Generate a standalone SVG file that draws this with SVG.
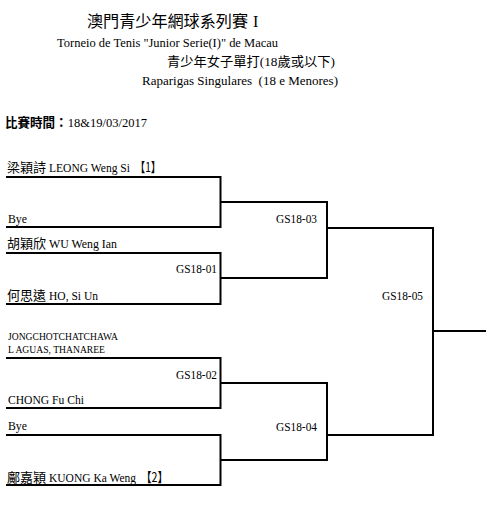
<svg xmlns="http://www.w3.org/2000/svg" width="495" height="529" viewBox="0 0 495 529">
<style>
.t{font-family:"Liberation Serif","Times New Roman","DejaVu Serif",serif;fill:#000;}
.c{font-family:"Noto Sans CJK TC","Noto Sans CJK SC",sans-serif;fill:#000;}
.h{font-size:16px;}
.s{font-size:13px;}
.n{font-size:12.5px;}
.k{font-size:13px;}
.m{font-size:12px;}
.x{font-size:9.5px;}
.b{font-weight:bold;}
.ln{fill:none;stroke:#000;stroke-width:2;}
</style>
<rect width="495" height="529" fill="#fff"/>
<g id="header">
<text class="c h" x="87" y="27" textLength="161" lengthAdjust="spacingAndGlyphs">澳門青少年網球系列賽</text>
<text class="t h" x="253" y="27">I</text>
<text class="t s" x="57" y="47" textLength="221" lengthAdjust="spacingAndGlyphs">Torneio de Tenis "Junior Serie(I)" de Macau</text>
<text class="t s" x="167" y="66" textLength="168" lengthAdjust="spacingAndGlyphs"><tspan class="c">青少年女子單打</tspan>(18<tspan class="c">歲或以下</tspan>)</text>
<text class="t s" x="142" y="85" textLength="196" lengthAdjust="spacingAndGlyphs" xml:space="preserve">Raparigas Singulares  (18 e Menores)</text>
<text class="t s" x="5" y="127" textLength="142" lengthAdjust="spacingAndGlyphs"><tspan class="c b">比賽時間：</tspan>18&amp;19/03/2017</text>
</g>
<g id="connectors">
<path class="ln" d="M6 177H220.5V227H6"/>
<path class="ln" d="M6 253H220.5V304H6"/>
<path class="ln" d="M6 358H220.5V408H6"/>
<path class="ln" d="M6 435H220.5V485H6"/>
<path class="ln" d="M220.5 202H327V278H220.5"/>
<path class="ln" d="M220.5 383H327V460H220.5"/>
<path class="ln" d="M327 228H433V435H327"/>
<path class="ln" d="M433 331H486"/>
</g>
<g id="p1">
<text class="c k" x="7" y="172" textLength="39" lengthAdjust="spacingAndGlyphs">梁穎詩</text>
<text class="t n" x="49" y="172" textLength="81" lengthAdjust="spacingAndGlyphs">LEONG Weng Si</text>
<text class="c k" x="135" y="172" textLength="26" lengthAdjust="spacingAndGlyphs">【1】</text>
</g>
<g id="p2"><text class="t n" x="8" y="223" textLength="19" lengthAdjust="spacingAndGlyphs">Bye</text></g>
<g id="p3">
<text class="c k" x="7" y="248" textLength="39" lengthAdjust="spacingAndGlyphs">胡穎欣</text>
<text class="t n" x="49" y="248" textLength="68" lengthAdjust="spacingAndGlyphs">WU Weng Ian</text>
</g>
<g id="p4">
<text class="c k" x="7" y="300" textLength="39" lengthAdjust="spacingAndGlyphs">何思遠</text>
<text class="t n" x="49" y="300" textLength="49" lengthAdjust="spacingAndGlyphs">HO, Si Un</text>
</g>
<g id="p5">
<text class="t x" x="8" y="340" textLength="110" lengthAdjust="spacingAndGlyphs">JONGCHOTCHATCHAWA</text>
<text class="t x" x="8" y="353" textLength="97" lengthAdjust="spacingAndGlyphs">L AGUAS, THANAREE</text>
</g>
<g id="p6"><text class="t n" x="8" y="404" textLength="76" lengthAdjust="spacingAndGlyphs">CHONG Fu Chi</text></g>
<g id="p7"><text class="t n" x="8" y="430" textLength="19" lengthAdjust="spacingAndGlyphs">Bye</text></g>
<g id="p8">
<text class="c k" x="7" y="482" textLength="39" lengthAdjust="spacingAndGlyphs">鄺嘉穎</text>
<text class="t n" x="49" y="482" textLength="87" lengthAdjust="spacingAndGlyphs">KUONG Ka Weng</text>
<text class="c k" x="141" y="482" textLength="27" lengthAdjust="spacingAndGlyphs">【2】</text>
</g>
<g id="m01"><text class="t m" x="176" y="273" textLength="41" lengthAdjust="spacingAndGlyphs">GS18-01</text></g>
<g id="m02"><text class="t m" x="176" y="379" textLength="41" lengthAdjust="spacingAndGlyphs">GS18-02</text></g>
<g id="m03"><text class="t m" x="276" y="223" textLength="41" lengthAdjust="spacingAndGlyphs">GS18-03</text></g>
<g id="m04"><text class="t m" x="276" y="431" textLength="41" lengthAdjust="spacingAndGlyphs">GS18-04</text></g>
<g id="m05"><text class="t m" x="382" y="300" textLength="41" lengthAdjust="spacingAndGlyphs">GS18-05</text></g>
</svg>
